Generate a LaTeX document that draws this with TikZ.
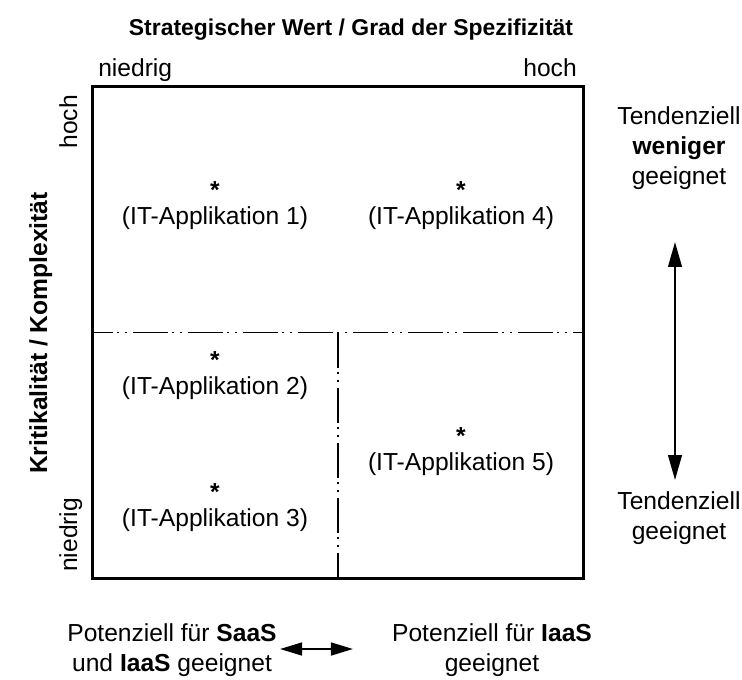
\documentclass[tikz,border=0pt]{standalone}
\usepackage{fontspec}
\setmainfont{Liberation Sans}
\usetikzlibrary{positioning,arrows.meta}
\newcommand{\fnt}{\fontsize{17.5}{21.3}\selectfont}

\begin{document}
\begin{tikzpicture}[x=0.025cm, y=-0.025cm, font=\fnt]

%% ── shared styles ─────────────────────────────────────────────────────────
\tikzset{
  lbl/.style={inner sep=0pt, align=center},
  app/.style={inner sep=0pt},
  asterisk/.style={inner sep=0pt, font=\fnt\bfseries},
  frame/.style={draw, line width=2.2pt, inner sep=0pt,
                minimum width=12.25cm, minimum height=12.275cm},
  hsplit/.style={line width=1.4pt, dash phase=0.33cm,
                 dash pattern=on 0.875cm off 0.1cm on 0.05cm off 0.15cm on 0.05cm off 0.15cm},
  vsplit/.style={line width=0.9pt,
                 dash pattern=on 0.875cm off 0.1cm on 0.05cm off 0.15cm on 0.05cm off 0.15cm},
  varr/.style={{Triangle[length=0.62cm,width=0.34cm]}-{Triangle[length=0.62cm,width=0.34cm]},
               line width=1.5pt},
  harr/.style={{Triangle[length=0.55cm,width=0.32cm]}-{Triangle[length=0.55cm,width=0.32cm]},
               line width=1.5pt},
}

\useasboundingbox (0,0) rectangle (742,679);

%% ── axes ──────────────────────────────────────────────────────────────────
\node[lbl, font=\fontsize{16.3}{20}\selectfont\bfseries] (xttl) at (351,30)
  {Strategischer Wert / Grad der Spezifizität};
\node[lbl, anchor=base west] (xlow)  at (98,76)  {niedrig};
\node[lbl, anchor=base east] (xhigh) at (577,76) {hoch};

\node[lbl, font=\fnt\bfseries, rotate=90, anchor=base] (yttl) at (47,333) {Kritikalität / Komplexität};
\node[lbl, rotate=90, anchor=base east] (yhigh) at (77,95)  {hoch};
\node[lbl, rotate=90, anchor=base west] (ylow)  at (77,572) {niedrig};

%% ── matrix ────────────────────────────────────────────────────────────────
\node[frame] (mat) at (338,332.5) {};
\draw[hsplit] (mat.west) -- (mat.east);
\draw[vsplit] (mat.center) -- (mat.south);

%% ── applications ──────────────────────────────────────────────────────────
\node[app] (app1) at (215,218) {(IT-Applikation 1)};
\node[app] (app4) at (461,218) {(IT-Applikation 4)};
\node[app] (app2) at (215,388) {(IT-Applikation 2)};
\node[app] (app3) at (215,520) {(IT-Applikation 3)};
\node[app] (app5) at (461,464) {(IT-Applikation 5)};

\foreach \a in {1,...,5}
  \node[asterisk, above=5pt of app\a] (ast\a) {*};

%% ── suitability (right) ───────────────────────────────────────────────────
\node[lbl] (sTop) at (679,148) {Tendenziell\\\textbf{weniger}\\geeignet};
\node[lbl] (sBot) at (679,518) {Tendenziell\\geeignet};
\coordinate (vTop) at (675,242);
\coordinate (vBot) at (675,480);
\draw[varr] (vTop) -- (vBot);

%% ── service models (bottom) ───────────────────────────────────────────────
\node[lbl] (saas) at (172,650) {Potenziell für \textbf{SaaS}\\und \textbf{IaaS} geeignet};
\node[lbl] (iaas) at (492,650) {Potenziell für \textbf{IaaS}\\geeignet};
\coordinate (hLft) at (280,649);
\coordinate (hRgt) at (353,649);
\draw[harr] (hLft) -- (hRgt);

\end{tikzpicture}
\end{document}
